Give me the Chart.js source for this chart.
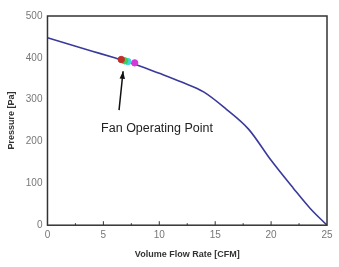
<!DOCTYPE html>
<html>
<head>
<meta charset="utf-8">
<script src="https://cdn.jsdelivr.net/npm/chart.js@4/dist/chart.umd.min.js"></script>
<style>
  html, body { margin: 0; padding: 0; background: #fff; }
  #wrap { width: 339px; height: 267px; }
</style>
</head>
<body>
<div id="wrap"><canvas id="fanChart"></canvas></div>
<script>
// fan curve (flow CFM -> pressure Pa)
const flowValues = [0, 2, 4, 6, 8, 10, 12, 14, 16, 18, 20, 22, 23.5, 25];
const pressureValues = [448, 432, 416, 400, 383, 363, 342, 318, 277, 229, 155, 88, 40, 0];

// operating point markers
const opFlow = [6.6, 6.9, 7.2, 7.8];
const opPressure = [396, 393, 391, 388];
const opColors = ["#c0302a", "#3ccf5a", "#3fd6e0", "#d23ad8"];

const xTicks = [0, 5, 10, 15, 20, 25];
const yTicks = [0, 100, 200, 300, 400, 500];

const noteText = "Fan Operating Point";
const noteAt = [9.8, 232];
const arrowFrom = [6.4, 275];
const arrowTo = [6.76, 368];

const curve = flowValues.map((x, i) => ({ x: x, y: pressureValues[i] }));

const opDatasets = opFlow.map((x, i) => ({
    type: "scatter",
    data: [{ x: x, y: opPressure[i] }],
    backgroundColor: opColors[i],
    borderColor: opColors[i],
    pointRadius: 3.2,
    order: 0
}));

// frame + arrow + label
const extras = {
    id: "extras",
    afterDraw(chart) {
        const { ctx, chartArea: a, scales: { x, y } } = chart;
        ctx.save();
        ctx.strokeStyle = "#333";
        ctx.lineWidth = 1.5;
        ctx.strokeRect(a.left, a.top, a.right - a.left, a.bottom - a.top);

        // inward ticks on the x axis
        ctx.lineWidth = 1;
        for (let v = 2.5; v < 25; v += 2.5) {
            const px = x.getPixelForValue(v);
            ctx.beginPath();
            ctx.moveTo(px, a.bottom);
            ctx.lineTo(px, a.bottom - (v % 5 === 0 ? 4 : 2));
            ctx.stroke();
        }

        const x1 = x.getPixelForValue(arrowFrom[0]), y1 = y.getPixelForValue(arrowFrom[1]);
        const x2 = x.getPixelForValue(arrowTo[0]), y2 = y.getPixelForValue(arrowTo[1]);
        ctx.strokeStyle = "#111";
        ctx.fillStyle = "#111";
        ctx.lineWidth = 1.5;
        ctx.beginPath();
        ctx.moveTo(x1, y1);
        ctx.lineTo(x2, y2);
        ctx.stroke();
        const ang = Math.atan2(y2 - y1, x2 - x1);
        ctx.beginPath();
        ctx.moveTo(x2, y2);
        ctx.lineTo(x2 - 8 * Math.cos(ang - 0.35), y2 - 8 * Math.sin(ang - 0.35));
        ctx.lineTo(x2 - 8 * Math.cos(ang + 0.35), y2 - 8 * Math.sin(ang + 0.35));
        ctx.closePath();
        ctx.fill();

        ctx.font = "12.5px 'Liberation Sans', Arial, sans-serif";
        ctx.fillStyle = "#222";
        ctx.textAlign = "center";
        ctx.textBaseline = "middle";
        ctx.fillText(noteText, x.getPixelForValue(noteAt[0]), y.getPixelForValue(noteAt[1]));
        ctx.restore();
    }
};

new Chart(document.getElementById("fanChart"), {
    type: "line",
    data: {
        datasets: [
            {
                data: curve,
                borderColor: "#3a3a9c",
                borderWidth: 1.6,
                pointRadius: 0,
                cubicInterpolationMode: "monotone",
                fill: false,
                order: 1
            },
            ...opDatasets
        ]
    },
    options: {
        responsive: true,
        maintainAspectRatio: false,
        animation: false,
        layout: { padding: { left: 2, right: 12, top: 16, bottom: 3 } },
        plugins: {
            legend: { display: false },
            tooltip: { enabled: false }
        },
        scales: {
            x: {
                type: "linear",
                min: 0,
                max: 25,
                afterBuildTicks: axis => { axis.ticks = xTicks.map(v => ({ value: v })); },
                grid: { display: false, drawTicks: false },
                border: { display: false },
                ticks: { color: "#777", padding: 4, font: { size: 10, family: "'Liberation Sans', Arial" } },
                title: {
                    display: true,
                    text: "Volume Flow Rate [CFM]",
                    color: "#333",
                    padding: { top: 4 },
                    font: { size: 9, weight: "bold", family: "'Liberation Sans', Arial" }
                }
            },
            y: {
                min: 0,
                max: 500,
                afterBuildTicks: axis => { axis.ticks = yTicks.map(v => ({ value: v })); },
                grid: { display: false, drawTicks: false },
                border: { display: false },
                ticks: { color: "#777", padding: 5, font: { size: 10, family: "'Liberation Sans', Arial" } },
                title: {
                    display: true,
                    text: "Pressure [Pa]",
                    color: "#333",
                    padding: { bottom: 4 },
                    font: { size: 9, weight: "bold", family: "'Liberation Sans', Arial" }
                }
            }
        }
    },
    plugins: [extras]
});
</script>
</body>
</html>
